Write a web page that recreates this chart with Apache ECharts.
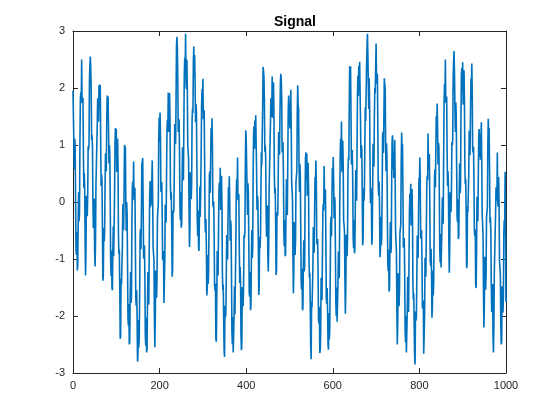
<!DOCTYPE html>
<html>
<head>
<meta charset="utf-8">
<script src="https://cdn.jsdelivr.net/npm/echarts@6/dist/echarts.min.js"></script>
<style>
  html, body { margin: 0; padding: 0; background: #fff; }
  #chart { width: 560px; height: 420px; }
</style>
</head>
<body>
<div id="chart"></div>
<script>
// samples, one per step on x (0..1000)
const xStep = 1
const signal = [
  1.95, 1.94, 1.03, 0.57, 1.11, 0.93, 0.04, -0.85, -0.93, -0.52, -1.2, -1.11, -0.32, 0.17, -0.34, -0.2, 1.04, 1.78, 1.92, 1.76,
  2.5, 1.74, 1.77, 1.83, 0.89, 0.25, 0.51, 0.25, -0.72, -1.29, -0.85, 0.11, -0.03, -0.25, 0.14, 0.98, 0.91, 1.02, 2.13, 2.4,
  2.55, 2.35, 1.99, 1.09, 1.18, 0.95, 0.02, -0.46, -0.14, 0.06, -0.85, -1.13, -0.71, 0.29, 0.28, 0.28, 1.37, 1.82, 1.66, 1.41,
  2.05, 1.66, 2.06, 2.02, 0.97, 0.28, 0.48, 0.36, -0.46, -1.38, -1.3, -0.45, -0.69, -0.54, 0.22, 0.85, 0.58, 0.54, 1.49, 1.87,
  1.45, 1.85, 1.35, 0.68, 1.0, 0.88, 0.05, -1.03, -1.3, -0.85, -1.5, -1.55, -0.9, -0.43, -0.95, -0.95, 0.15, 1.03, 1.3, 0.84,
  1.28, 0.53, 0.58, 1.11, 0.64, -0.59, -0.91, -0.84, -1.46, -2.4, -2.35, -1.35, -1.45, -1.42, -0.79, -0.04, -0.19, -0.49, 0.22, 1.0,
  0.98, 0.94, -0.01, -0.51, 0.0, -0.22, -1.13, -2.05, -2.17, -1.79, -2.5, -2.45, -1.69, -1.23, -1.77, -1.67, -0.46, 0.25, 0.36, 0.09,
  0.71, 0.03, 0.15, 0.25, -0.66, -1.69, -1.82, -1.55, -1.98, -2.8, -2.69, -2.07, -2.55, -2.36, -1.56, -0.57, -0.47, -0.83, -0.18, 0.65,
  0.68, 0.77, -0.05, -0.99, -0.92, -0.76, -1.29, -2.31, -2.52, -2.03, -2.64, -2.58, -1.81, -1.23, -1.64, -1.8, -0.86, 0.06, 0.37, -0.09,
  0.35, -0.05, 0.35, 0.73, 0.1, -0.78, -0.75, -1.03, -2.0, -2.55, -2.1, -1.2, -1.4, -1.68, -1.35, -0.3, -0.15, -0.03, 1.1, 1.48,
  1.06, 1.57, 1.17, 0.18, 0.19, 0.35, -0.2, -1.02, -1.04, -0.86, -1.77, -1.77, -1.06, -0.05, -0.04, -0.36, 0.43, 1.24, 1.44, 1.23,
  1.92, 1.23, 1.33, 1.91, 1.48, 0.31, 0.04, 0.17, -0.41, -1.31, -1.2, -0.15, -0.19, -0.12, 0.56, 1.37, 1.27, 1.02, 1.77, 2.74,
  2.9, 2.7, 2.17, 1.23, 1.29, 1.45, 0.91, -0.1, -0.32, 0.17, -0.45, -0.39, 0.37, 0.96, 0.54, 0.38, 1.31, 2.22, 2.53, 2.29,
  2.95, 2.07, 1.98, 2.5, 2.01, 1.0, 0.89, 0.73, -0.13, -0.79, -0.45, 0.52, 0.38, 0.05, 0.31, 1.43, 1.64, 1.56, 2.47, 2.73,
  2.18, 2.58, 2.07, 1.4, 1.72, 1.59, 0.76, -0.32, -0.59, -0.15, -0.8, -0.86, -0.21, 0.27, -0.26, -0.27, 0.83, 1.71, 1.98, 1.62,
  2.16, 1.45, 1.54, 1.61, 0.68, -0.38, -0.54, -0.3, -0.76, -1.64, -1.52, -0.93, -1.44, -1.27, -0.5, 0.47, 0.54, 0.16, 0.77, 1.3,
  1.02, 1.47, 1.01, -0.04, -0.09, 0.01, -0.59, -1.47, -1.55, -1.43, -2.4, -2.45, -1.8, -0.86, -0.91, -1.29, -0.56, 0.19, 0.34, 0.02,
  0.6, -0.14, -0.08, 0.46, -0.01, -1.23, -1.54, -1.45, -2.06, -2.6, -2.72, -1.82, -2.02, -1.98, -1.34, -0.58, -0.72, -1.01, -0.3, 0.26,
  0.02, 0.45, -0.03, -0.68, -0.32, -0.42, -1.21, -2.26, -2.5, -2.02, -2.64, -2.66, -1.98, -1.48, -1.97, -1.94, -0.81, 0.1, 0.4, 0.14,
  0.78, 0.03, 0.07, 0.14, -0.79, -1.42, -1.14, -1.4, -2.35, -2.6, -2.46, -1.49, -1.62, -1.83, -1.43, -0.58, -0.63, -0.51, 0.61, 1.26,
  1.11, 1.12, 0.22, -0.23, 0.33, 0.16, -0.72, -1.59, -1.66, -1.23, -1.9, -1.8, -0.99, -0.49, -0.98, -0.83, 0.42, 1.18, 1.33, 0.93,
  1.43, 1.08, 1.52, 1.52, 0.52, -0.14, 0.11, 0.03, -0.75, -1.63, -1.5, -0.61, -0.81, -0.61, 0.19, 0.87, 0.64, 0.64, 1.63, 2.37,
  2.3, 2.2, 1.77, 0.88, 0.99, 0.78, -0.14, -0.61, -0.27, -0.06, -0.95, -1.22, -0.78, 0.23, 0.24, 0.25, 1.36, 1.82, 1.68, 1.49,
  2.2, 1.48, 1.55, 2.1, 1.65, 0.45, 0.15, 0.25, -0.35, -1.28, -1.2, -0.18, -0.25, -0.2, 0.45, 1.23, 1.1, 0.83, 1.55, 2.1,
  2.25, 2.15, 1.83, 0.87, 0.91, 1.05, 0.49, -0.55, -0.78, -0.32, -0.95, -0.91, -0.17, 0.4, -0.04, -0.23, 0.69, 1.58, 1.87, 1.36,
  1.74, 1.29, 1.64, 1.97, 1.29, 0.37, 0.35, 0.03, -1.0, -1.6, -1.2, -0.35, -0.6, -0.93, -0.65, 0.36, 0.46, 0.54, 1.61, 2.05,
  1.69, 1.64, 0.68, 0.18, 0.67, 0.45, -0.48, -1.41, -1.54, -1.17, -1.9, -1.86, -1.11, -0.67, -1.22, -1.12, 0.08, 0.78, 0.87, 0.41,
  0.85, 0.11, 0.16, 0.69, 0.22, -1.01, -1.33, -1.25, -1.87, -2.55, -2.76, -1.76, -1.85, -1.82, -1.19, -0.44, -0.59, -0.89, -0.18, 0.44,
  0.25, 0.73, 0.3, -0.74, -0.77, -0.65, -1.22, -2.08, -2.13, -1.84, -2.65, -2.6, -2.3, -1.33, -1.36, -1.72, -0.97, -0.2, -0.03, -0.15,
  0.63, -0.04, 0.1, 0.22, -0.67, -1.68, -1.79, -1.51, -1.92, -2.5, -2.59, -1.95, -2.41, -2.2, -1.39, -0.38, -0.26, -0.6, 0.07, 0.6,
  0.33, 0.79, 0.34, -0.29, 0.09, 0.02, -0.76, -1.78, -2.0, -1.5, -2.1, -2.1, -1.4, -0.87, -1.34, -1.29, -0.14, 0.79, 1.11, 0.81,
  1.41, 0.57, 0.52, 1.08, 0.64, -0.33, -0.4, -0.52, -1.34, -1.96, -1.57, -0.57, -0.66, -0.95, -0.64, 0.52, 0.78, 0.74, 1.69, 2.38,
  2.27, 2.38, 1.58, 0.66, 0.73, 0.91, 0.39, -0.61, -0.81, -0.31, -0.9, -0.82, -0.04, 0.56, 0.16, 0.02, 0.97, 1.9, 2.22, 1.86,
  2.39, 2.03, 2.46, 2.45, 1.43, 0.77, 1.0, 0.92, 0.13, -0.76, -0.65, 0.24, 0.02, 0.21, 1.0, 1.66, 1.42, 1.41, 2.39, 2.7,
  2.95, 2.6, 2.09, 1.63, 2.17, 1.76, 0.65, -0.02, 0.12, 0.24, -0.75, -0.64, 0.18, 1.02, 0.85, 0.62, 1.48, 2.0, 1.91, 1.9,
  2.78, 2.08, 2.17, 2.25, 1.32, 0.27, 0.11, 0.36, -0.09, -0.97, -0.85, -0.26, -0.76, -0.59, 0.19, 1.16, 1.23, 0.86, 1.48, 2.17,
  2.06, 2.0, 1.04, 0.54, 1.03, 0.8, -0.14, -1.08, -1.21, -0.84, -1.57, -1.53, -0.79, -0.35, -0.9, -0.81, 0.39, 1.08, 1.17, 0.57,
  0.87, 0.42, 0.76, 1.09, 0.41, -0.52, -0.54, -0.87, -1.9, -2.5, -2.1, -1.25, -1.5, -1.83, -1.56, -0.56, -0.46, -0.39, 0.69, 1.22,
  0.95, 1.01, 0.17, -0.8, -0.76, -0.63, -1.19, -2.23, -2.46, -2.0, -2.64, -2.61, -1.87, -1.31, -1.74, -1.93, -1.02, -0.14, 0.15, -0.22,
  0.32, -0.41, -0.33, 0.23, -0.22, -1.42, -1.71, -1.61, -2.2, -2.7, -2.85, -1.92, -2.08, -2.03, -1.37, -0.59, -0.71, -0.98, -0.25, 0.42,
  0.28, 0.78, 0.37, -0.64, -0.64, -0.49, -1.04, -1.87, -1.9, -1.73, -2.66, -2.67, -1.97, -0.98, -0.98, -1.31, -0.53, 0.27, 0.46, 0.38,
  1.2, 0.56, 0.71, 0.84, -0.03, -1.03, -1.12, -0.82, -1.21, -2.03, -1.85, -1.2, -1.64, -1.41, -0.58, 0.45, 0.58, 0.26, 0.94, 1.51,
  1.28, 1.73, 1.28, 0.66, 1.04, 0.97, 0.19, -0.84, -1.06, -0.56, -1.15, -1.15, -0.45, 0.08, -0.39, -0.34, 0.82, 1.75, 2.07, 1.84,
  2.5, 1.74, 1.78, 1.85, 0.91, 0.28, 0.54, 0.28, -0.68, -1.24, -0.8, 0.17, 0.03, -0.18, 0.21, 1.05, 0.99, 1.11, 2.22, 2.45,
  2.65, 2.3, 1.7, 1.23, 1.75, 1.55, 0.65, -0.25, -0.35, 0.05, -0.65, -0.58, 0.2, 0.68, 0.15, 0.28, 1.5, 2.23, 2.35, 1.95,
  2.45, 1.71, 1.77, 2.31, 1.84, 0.63, 0.31, 0.4, -0.22, -1.16, -1.1, -0.09, -0.18, -0.15, 0.49, 1.25, 1.11, 0.82, 1.53, 2.16,
  1.98, 2.43, 1.97, 0.92, 0.87, 0.97, 0.36, -0.52, -0.6, -0.48, -1.45, -1.51, -0.86, 0.09, 0.04, -0.34, 0.39, 1.14, 1.28, 0.79,
  1.19, 0.74, 1.08, 1.4, 0.72, -0.21, -0.24, -0.57, -1.59, -2.2, -1.8, -0.96, -1.21, -1.54, -1.27, -0.27, -0.17, -0.1, 0.97, 1.46,
  1.14, 1.3, 0.56, -0.36, -0.27, -0.51, -1.44, -1.93, -1.62, -1.44, -2.35, -2.64, -2.23, -1.25, -1.26, -1.27, -0.18, 0.26, 0.09, 0.03,
  0.87, -0.01, -0.08, 0.44, -0.04, -1.04, -1.14, -1.3, -2.15, -2.5, -2.45, -1.48, -1.61, -1.94, -1.66, -0.54, -0.32, -0.4, 0.53, -0.6,
  -1.75
]
const xTicks = [0, 200, 400, 600, 800, 1000]
const yTicks = [-3, -2, -1, 0, 1, 2, 3]

const axisColor = '#262626'
const fontFamily = 'Liberation Sans, Arial, sans-serif'
const chart = echarts.init(document.getElementById('chart'))

function boxAxis(extra) {
  return Object.assign({
    type: 'value',
    axisLine: {show: true, onZero: false, lineStyle: {color: axisColor, width: 1}},
    axisTick: {show: true, inside: true, length: 5, lineStyle: {color: axisColor}},
    splitLine: {show: false}
  }, extra)
}

chart.setOption({
  animation: false,
  title: {
    text: 'Signal',
    left: 290, top: 10, textAlign: 'center',
    textStyle: {fontSize: 14, fontWeight: 'bold', color: '#000', fontFamily}
  },
  grid: {left: 73, right: 54, top: 31, bottom: 47},
  xAxis: [
    boxAxis({min: xTicks[0], max: xTicks[xTicks.length - 1], interval: 200, position: 'bottom',
      axisLabel: {color: axisColor, fontSize: 11, margin: 7, fontFamily, formatter: v => String(v)}}),
    boxAxis({min: xTicks[0], max: xTicks[xTicks.length - 1], interval: 200, position: 'top',
      axisLabel: {show: false}})
  ],
  yAxis: [
    boxAxis({min: yTicks[0], max: yTicks[yTicks.length - 1], interval: 1, position: 'left',
      axisLabel: {color: axisColor, fontSize: 11, margin: 8, fontFamily}}),
    boxAxis({min: yTicks[0], max: yTicks[yTicks.length - 1], interval: 1, position: 'right',
      axisLabel: {show: false}})
  ],
  series: [{
    type: 'line',
    xAxisIndex: 0,
    yAxisIndex: 0,
    showSymbol: false,
    sampling: false,
    lineStyle: {width: 1.6, color: '#0072BD'},
    data: signal.map((v, i) => [i * xStep, v])
  }]
})
</script>
</body>
</html>
